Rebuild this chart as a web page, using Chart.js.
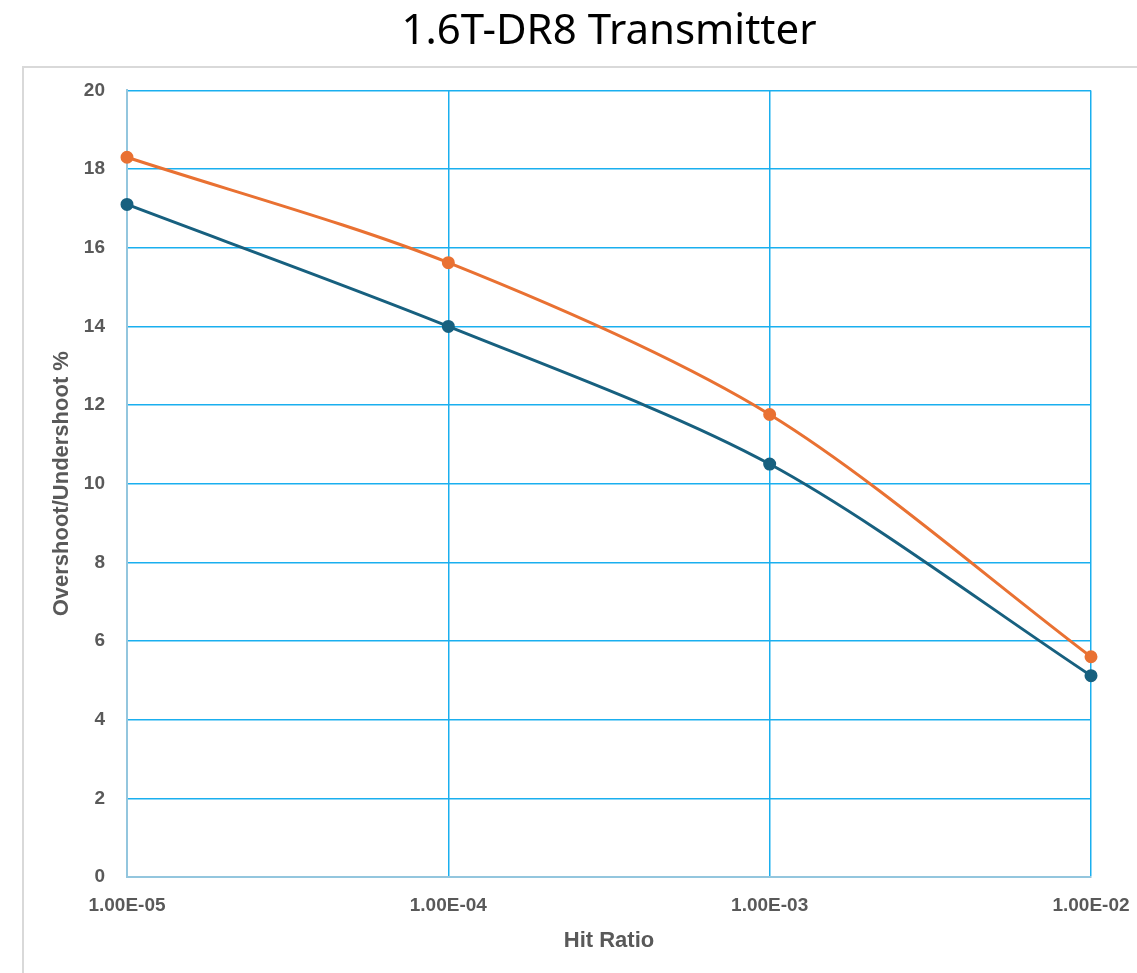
<!DOCTYPE html>
<html>
<head>
<meta charset="utf-8">
<script src="https://cdn.jsdelivr.net/npm/chart.js@4"></script>
<style>
  html, body { margin: 0; padding: 0; background: #fff; overflow: hidden; }
  #frame { position: absolute; left: 22px; top: 66px; width: 1200px; height: 1000px;
           border: 2px solid #d9d9d9; box-sizing: border-box; }
  #wrap { position: absolute; left: 0; top: 0; width: 1137px; height: 973px; }
</style>
</head>
<body>
<div id="frame"></div>
<div id="wrap"><canvas id="chart"></canvas></div>
<script>
// hit ratio (x, log scale) and overshoot/undershoot % per series
const hitRatio = [1e-5, 1e-4, 1e-3, 1e-2];
const overshoot = [18.3, 15.62, 11.76, 5.6];
const undershoot = [17.1, 14.0, 10.5, 5.12];
const xTicks = [1e-5, 1e-4, 1e-3, 1e-2];

const toPoints = (ys) => hitRatio.map((x, i) => ({ x, y: ys[i] }));

// Excel style "1.00E-05"
function sciLabel(v) {
  const exp = Math.round(Math.log10(v));
  const mant = (v / Math.pow(10, exp)).toFixed(2);
  const sign = exp < 0 ? '-' : '+';
  return mant + 'E' + sign + String(Math.abs(exp)).padStart(2, '0');
}

const tickFont = { family: 'Liberation Sans', size: 19, weight: 'bold' };
const titleFont = { family: 'Liberation Sans', size: 22, weight: 'bold' };

new Chart(document.getElementById('chart'), {
  type: 'line',
  data: {
    datasets: [
      {
        label: 'Overshoot',
        data: toPoints(overshoot),
        borderColor: '#E97132',
        backgroundColor: '#E97132',
        borderWidth: 3,
        pointRadius: 5,
        tension: 0.3,
        clip: false
      },
      {
        label: 'Undershoot',
        data: toPoints(undershoot),
        borderColor: '#17607F',
        backgroundColor: '#17607F',
        borderWidth: 3,
        pointRadius: 5,
        tension: 0.3,
        clip: false
      }
    ]
  },
  options: {
    responsive: true,
    maintainAspectRatio: false,
    animation: false,
    layout: { padding: { left: 40, right: 46, top: 0, bottom: 13 } },
    plugins: {
      legend: { display: false },
      tooltip: { enabled: false },
      title: {
        display: true,
        text: '1.6T-DR8 Transmitter',
        fullSize: false,
        color: '#000',
        font: { family: 'Noto Sans', size: 42, weight: 'normal' },
        padding: { top: 7, bottom: 33 }
      }
    },
    scales: {
      x: {
        type: 'logarithmic',
        min: 1e-5,
        max: 1e-2,
        afterBuildTicks: (scale) => { scale.ticks = xTicks.map(v => ({ value: v })); },
        afterFit: (scale) => {
          scale.height = 83;
          // let the layout padding alone decide the plot edges
          scale.paddingLeft = 0;
          scale.paddingRight = 0;
        },
        grid: { color: '#1AAFEF', lineWidth: 1.5, drawTicks: false },
        border: { color: '#93C6DE', width: 2 },
        ticks: {
          color: '#595959',
          font: tickFont,
          padding: 17,
          maxRotation: 0,
          autoSkip: false,
          callback: (v) => sciLabel(v)
        },
        title: {
          display: true,
          text: 'Hit Ratio',
          color: '#595959',
          font: titleFont,
          padding: { top: 0, bottom: 6 }
        }
      },
      y: {
        min: 0,
        max: 20,
        afterFit: (scale) => { scale.width = 87; },
        grid: { color: '#1AAFEF', lineWidth: 1.5, drawTicks: false },
        border: { color: '#93C6DE', width: 2 },
        ticks: { stepSize: 2, color: '#595959', font: tickFont, padding: 22 },
        title: {
          display: true,
          text: 'Overshoot/Undershoot %',
          color: '#595959',
          font: titleFont,
          padding: { top: 9, bottom: 0 }
        }
      }
    }
  }
});
</script>
</body>
</html>
